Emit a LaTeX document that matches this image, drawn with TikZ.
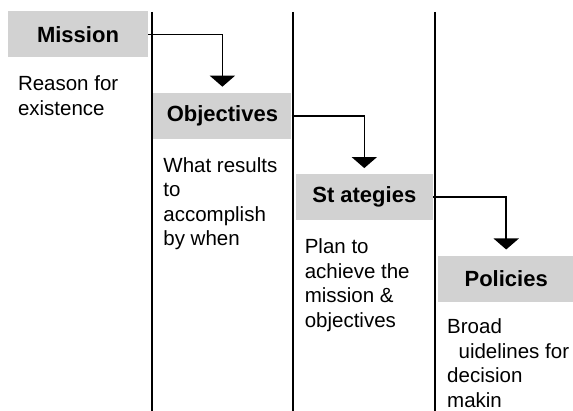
\documentclass[tikz,border=0pt]{standalone}
\usepackage{fontspec}
\setmainfont{Liberation Sans}
\usetikzlibrary{arrows.meta,positioning}
\tikzset{
  headbox/.style={rectangle,fill=gray!35,minimum height=46pt,inner sep=0pt,
    font=\fontsize{22}{26}\selectfont\bfseries},
  descbox/.style={align=left,inner sep=0pt,font=\fontsize{20.5}{24.5}\selectfont},
  arrow/.style={-{Triangle[width=25pt,length=11pt]},line width=1.6pt,shorten >=6pt},
  sepline/.style={line width=1.8pt,draw=black},
}
\begin{document}
\begin{tikzpicture}[x=1pt,y=-1pt]
  \useasboundingbox (0,0) rectangle (573,411);
  % column separators
  \foreach \x in {152.3,293.3,435} \draw[sepline] (\x,12) -- (\x,411);
  \node[headbox, minimum width=140pt] (mission) at (78,34.5) {Mission};
  \node[headbox, minimum width=138pt, below right=35pt and 5pt of mission.south east] (objectives) {Objectives};
  \node[headbox, minimum width=137pt, below right=35pt and 4pt of objectives.south east] (strategies) {St ategies};
  \node[headbox, minimum width=136pt, below right=35pt and 5pt of strategies.south east] (policies) {Policies};
  \node[descbox, below right=18pt and 10pt of mission.south west] (reason) {Reason for\\existence};
  \node[descbox, below right=18pt and 10pt of objectives.south west] (results) {What results\\to\\accomplish\\by when};
  \node[descbox, below right=18pt and 9pt of strategies.south west] (plan) {Plan to\\achieve the\\mission \&\\objectives};
  \node[descbox, below right=17pt and 9pt of policies.south west] (broad) {Broad\\\phantom{g}uidelines for\\decision\\makin};
  \draw[arrow] (mission.east) -| (objectives.north);
  \draw[arrow] (objectives.east) -| (strategies.north);
  \draw[arrow] (strategies.east) -| (policies.north);
\end{tikzpicture}
\end{document}
